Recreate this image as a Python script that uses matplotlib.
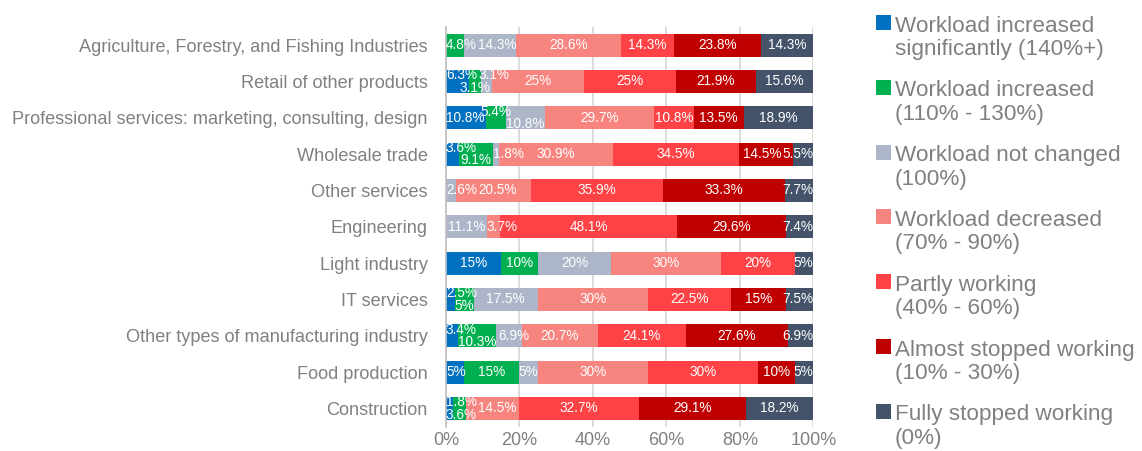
import matplotlib
matplotlib.use("Agg")
import matplotlib.pyplot as plt
from matplotlib.patches import Rectangle
import numpy as np

plt.rcParams['font.family'] = ['Liberation Sans', 'DejaVu Sans']

categories = [
    "Agriculture, Forestry, and Fishing Industries",
    "Retail of other products",
    "Professional services: marketing, consulting, design",
    "Wholesale trade",
    "Other services",
    "Engineering",
    "Light industry",
    "IT services",
    "Other types of manufacturing industry",
    "Food production",
    "Construction",
]

series_names = [
    "Workload increased\nsignificantly (140%+)",
    "Workload increased\n(110% - 130%)",
    "Workload not changed\n(100%)",
    "Workload decreased\n(70% - 90%)",
    "Partly working\n(40% - 60%)",
    "Almost stopped working\n(10% - 30%)",
    "Fully stopped working\n(0%)",
]

inc_sig    = [0.0, 6.3, 10.8, 3.6, 0.0, 0.0, 15.0, 2.5, 3.4, 5.0, 1.8]
inc        = [4.8, 3.1, 5.4, 9.1, 0.0, 0.0, 10.0, 5.0, 10.3, 15.0, 3.6]
not_chg    = [14.3, 3.1, 10.8, 1.8, 2.6, 11.1, 20.0, 17.5, 6.9, 5.0, 0.0]
decreased  = [28.6, 25.0, 29.7, 30.9, 20.5, 3.7, 30.0, 30.0, 20.7, 30.0, 14.5]
partly     = [14.3, 25.0, 10.8, 34.5, 35.9, 48.1, 20.0, 22.5, 24.1, 30.0, 32.7]
almost     = [23.8, 21.9, 13.5, 14.5, 33.3, 29.6, 0.0, 15.0, 27.6, 10.0, 29.1]
fully      = [14.3, 15.6, 18.9, 5.5, 7.7, 7.4, 5.0, 7.5, 6.9, 5.0, 18.2]

series = [inc_sig, inc, not_chg, decreased, partly, almost, fully]
colors = ["#0070C0", "#00B050", "#ADB5C8", "#F88480", "#FF4245", "#C00000", "#44536A"]
xticks = [0, 20, 40, 60, 80, 100]
xtick_labels = ["0%", "20%", "40%", "60%", "80%", "100%"]

# label vertical nudges (style): (row, series) -> level (-1 up, +1 down)
label_level = {
    (1, 0): -1, (1, 1): 1, (1, 2): -1,
    (2, 1): -1, (2, 2): 1,
    (3, 0): -1, (3, 1): 1,
    (7, 0): -1, (7, 1): 1,
    (8, 0): -1, (8, 1): 1,
    (10, 0): -1, (10, 1): 1,
}

TEXT_GRAY = "#808080"

fig = plt.figure(figsize=(11.42, 4.51), dpi=100)
ax = fig.add_axes([446/1142, 1-426.6/451, 367.3/1142, 399.6/451])

n = len(categories)
y = np.arange(n)
left = np.zeros(n)
bar_h = 0.63
for vals, col in zip(series, colors):
    ax.barh(y, vals, left=left, height=bar_h, color=col, edgecolor='none', zorder=2)
    left = left + np.array(vals)

ax.set_xlim(0, 100)
ax.set_ylim(n - 0.5, -0.5)
ax.set_yticks(y)
ax.set_yticklabels(categories, fontsize=13.1, color=TEXT_GRAY)
ax.set_xticks(xticks)
ax.set_xticklabels(xtick_labels, fontsize=13, color=TEXT_GRAY)
ax.tick_params(axis='both', length=0)
ax.tick_params(axis='y', pad=13)
ax.tick_params(axis='x', pad=4)
for s in ['top', 'right', 'bottom']:
    ax.spines[s].set_visible(False)
ax.spines['left'].set_color('#BFBFBF')
ax.spines['left'].set_linewidth(1.2)
ax.spines['left'].set_zorder(3)
ax.xaxis.grid(True, color='#D9D9D9', linewidth=1.3, zorder=0)
ax.set_axisbelow(True)

# data labels
fig.canvas.draw()
renderer = fig.canvas.get_renderer()
px_per_unit = ax.transData.transform((1, 0))[0] - ax.transData.transform((0, 0))[0]
dy = 0.17
gap = 0.3
for i in range(n):
    start = 0.0
    placed = []  # [level, left, width, text]
    for j, vals in enumerate(series):
        v = vals[i]
        if v <= 0:
            continue
        c = start + v / 2
        start += v
        lvl = label_level.get((i, j), 0)
        t = ax.text(c, i + lvl * dy, f"{v:g}%", ha='center', va='center',
                    color='white', fontsize=9.8, zorder=4)
        w = t.get_window_extent(renderer).width / px_per_unit
        lft = c - w / 2
        for (pl, pleft, pw, _) in placed:
            if lvl == 0 or pl == lvl:
                if lft < pleft + pw + gap:
                    lft = pleft + pw + gap
        lft = max(lft, 0.0)
        lft = min(lft, 100 - w)
        placed.append([lvl, lft, w, t])
    # backward pass: push labels left if the next one was clamped at the right edge
    for k in range(len(placed) - 2, -1, -1):
        nxt = placed[k + 1]
        cur = placed[k]
        if cur[0] == 0 or nxt[0] == 0 or cur[0] == nxt[0]:
            if cur[1] + cur[2] + gap > nxt[1]:
                cur[1] = max(0.0, nxt[1] - gap - cur[2])
    for (pl, pleft, pw, t) in placed:
        t.set_x(pleft + pw / 2)

# legend (manual, first-line aligned squares)
W, H = 1142.0, 451.0
sq_x = 876
sq = 15
txt_x = 895
top0 = 15
step = 64.8
for k, (name, col) in enumerate(zip(series_names, colors)):
    top = top0 + k * step
    fig.patches.append(Rectangle((sq_x / W, 1 - (top + sq) / H), sq / W, sq / H,
                                 transform=fig.transFigure, facecolor=col,
                                 edgecolor='none'))
    for li, line in enumerate(name.split("\n")):
        base = top + 16.7 + li * 23.3
        fig.text(txt_x / W, 1 - base / H, line, fontsize=16.2, color=TEXT_GRAY,
                 ha='left', va='baseline')

fig.savefig("out.png", dpi=100)
